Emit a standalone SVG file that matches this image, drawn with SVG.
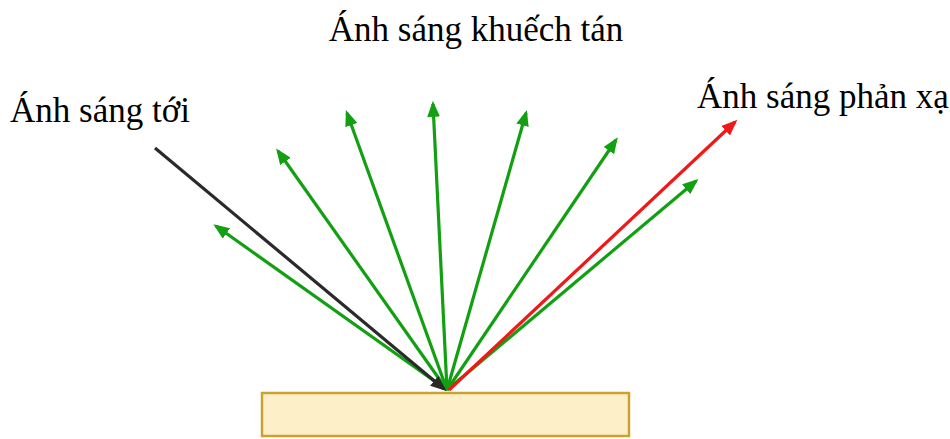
<svg xmlns="http://www.w3.org/2000/svg" width="950" height="439" viewBox="0 0 950 439">
  <style>
    .label { font-family: "Liberation Serif", "Times New Roman", serif; font-size: 35px; fill: #000; }
    .ray { stroke-width: 3.2; fill: none; }
    .green { stroke: #12a012; }
    .red { stroke: #f01818; }
    .black { stroke: #2a2a2a; }
  </style>
  <defs>
    <marker id="head-green" markerWidth="5" markerHeight="4" refX="4" refY="2" orient="auto" markerUnits="strokeWidth">
      <path d="M0,0 L5,2 L0,4 Z" fill="#12a012"/>
    </marker>
    <marker id="head-red" markerWidth="5" markerHeight="4" refX="4" refY="2" orient="auto" markerUnits="strokeWidth">
      <path d="M0,0 L5,2 L0,4 Z" fill="#f01818"/>
    </marker>
    <marker id="head-black" markerWidth="5" markerHeight="4" refX="4" refY="2" orient="auto" markerUnits="strokeWidth">
      <path d="M0,0 L5,2 L0,4 Z" fill="#2a2a2a"/>
    </marker>
  </defs>

  <!-- reflecting surface -->
  <g id="surface">
    <rect x="262" y="393" width="367" height="43" fill="#fdf0c9" stroke="#c9a234" stroke-width="2.5"/>
  </g>

  <!-- rays -->
  <g id="connectors">
    <line class="ray green" x1="447" y1="390" x2="216" y2="226" marker-end="url(#head-green)"/>
    <line class="ray green" x1="447" y1="390" x2="278" y2="151" marker-end="url(#head-green)"/>
    <line class="ray green" x1="447" y1="390" x2="347" y2="113" marker-end="url(#head-green)"/>
    <line class="ray green" x1="447" y1="390" x2="433" y2="104" marker-end="url(#head-green)"/>
    <line class="ray green" x1="447" y1="390" x2="526" y2="113" marker-end="url(#head-green)"/>
    <line class="ray green" x1="447" y1="390" x2="616" y2="140" marker-end="url(#head-green)"/>
    <line class="ray green" x1="447" y1="390" x2="696" y2="181" marker-end="url(#head-green)"/>
    <line class="ray red" x1="449" y1="390" x2="735" y2="122" marker-end="url(#head-red)"/>
    <line class="ray black" x1="155" y1="148" x2="444" y2="389" marker-end="url(#head-black)"/>
  </g>

  <!-- labels -->
  <g id="label-diffuse">
    <text class="label" x="476" y="41" text-anchor="middle">Ánh sáng khuếch tán</text>
  </g>
  <g id="label-incident">
    <text class="label" x="10" y="122">Ánh sáng tới</text>
  </g>
  <g id="label-reflected">
    <text class="label" x="697" y="108">Ánh sáng phản xạ</text>
  </g>
</svg>
